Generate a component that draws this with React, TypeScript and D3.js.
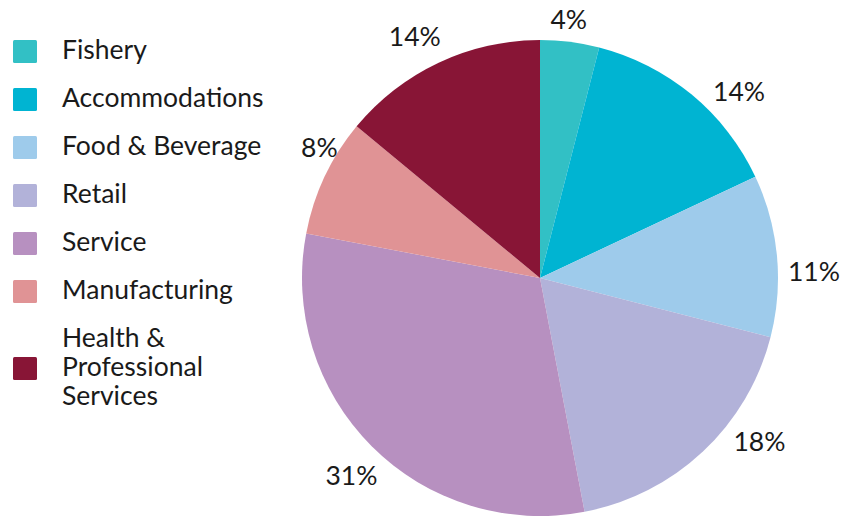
import { useEffect, useRef } from "react";
import * as d3 from "d3";

const categories = [
  "Fishery",
  "Accommodations",
  "Food & Beverage",
  "Retail",
  "Service",
  "Manufacturing",
  "Health & Professional Services",
];
const shares = [4, 14, 11, 18, 31, 8, 14];
const colors = ["#32c0c5", "#00b4d2", "#9ecbeb", "#b2b2d9", "#b790c0", "#e09395", "#881536"];
// legend lines (the last entry wraps)
const legendLines = [
  ["Fishery"],
  ["Accommodations"],
  ["Food & Beverage"],
  ["Retail"],
  ["Service"],
  ["Manufacturing"],
  ["Health &", "Professional", "Services"],
];
// label placement tweaks: degrees off the slice middle, px pulled in (mimics the original's fit)
const labelNudge = [-1, 7, 4, -10, -1.5, 5, -2];
const labelPull = [0, 0, 0, 0, 0, 11, 0];

const W = 851;
const H = 516;
const FONT = "Lato, 'Open Sans', sans-serif";
const FS = 26.5;

export default function App() {
  const svgRef = useRef<SVGSVGElement>(null);

  useEffect(() => {
    if (!svgRef.current) return;
    const svg = d3.select(svgRef.current);
    svg.selectAll("*").remove();

    const cx = 540, cy = 278, r = 238;
    const data = categories.map((c, i) => ({ name: c, value: shares[i], color: colors[i], i }));

    const pie = d3.pie<typeof data[0]>().value((d) => d.value).sort(null);
    const arcs = pie(data);
    const arc = d3.arc<d3.PieArcDatum<typeof data[0]>>().innerRadius(0).outerRadius(r);

    const g = svg.append("g").attr("transform", `translate(${cx},${cy})`);
    g.selectAll("path")
      .data(arcs)
      .join("path")
      .attr("d", arc)
      .attr("fill", (d) => d.data.color);

    // labels outside end, box pushed off the rim, kept inside the frame
    const gapX = 10, gapY = 21;
    g.selectAll("text.lbl")
      .data(arcs)
      .join("text")
      .attr("class", "lbl")
      .attr("font-family", FONT)
      .attr("font-size", FS)
      .attr("fill", "#1a1a1a")
      .attr("text-anchor", "middle")
      .attr("dominant-baseline", "central")
      .text((d) => `${d.data.value}%`)
      .each(function (d) {
        const k = d.data.i;
        const a = (d.startAngle + d.endAngle) / 2 + (labelNudge[k] * Math.PI) / 180;
        const bb = (this as SVGTextElement).getBBox();
        const s = Math.sin(a), c = Math.cos(a);
        const x = (r + gapX - labelPull[k]) * s + (s * bb.width) / 2;
        let y = -(r + gapY - labelPull[k]) * c - (c * bb.height * 0.8) / 2;
        y = Math.max(y, -cy + 19);
        d3.select(this).attr("x", x).attr("y", y);
      });

    // legend
    const leg = svg.append("g");
    const lh = 29;
    let y = 59;
    legendLines.forEach((lines, i) => {
      const midBase = y + ((lines.length - 1) * lh) / 2;
      leg.append("rect")
        .attr("x", 13).attr("y", midBase - 19)
        .attr("width", 24).attr("height", 23)
        .attr("rx", 1.5)
        .attr("fill", colors[i]);
      lines.forEach((t, j) => {
        leg.append("text")
          .attr("x", 62).attr("y", y + j * lh)
          .attr("font-family", FONT)
          .attr("font-size", FS)
          .attr("fill", "#1a1a1a")
          .text(t);
      });
      y += 48;
    });
  }, []);

  return (
    <svg
      ref={svgRef}
      width={W}
      height={H}
      style={{ position: "absolute", left: 0, top: 0, background: "#fff" }}
    />
  );
}
